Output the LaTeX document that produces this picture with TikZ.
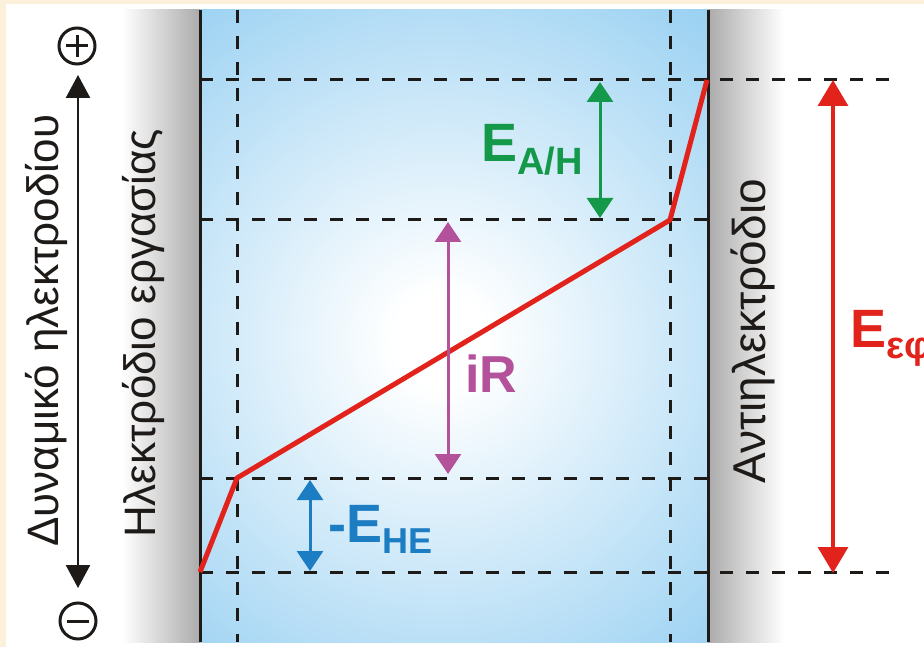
\documentclass[tikz,border=0pt]{standalone}
\usepackage{fontspec}
\setmainfont{Liberation Sans}
\usetikzlibrary{arrows.meta}
\definecolor{beige}{HTML}{FBF0DA}
\definecolor{bluec}{RGB}{112,190,237}
\definecolor{elgray}{HTML}{ABABAB}
\definecolor{redc}{HTML}{E2231C}
\definecolor{greenc}{HTML}{14994A}
\definecolor{bluearr}{HTML}{1C7DC2}
\definecolor{magc}{HTML}{B3519B}
\definecolor{inkc}{HTML}{1E1A18}
\pgfdeclareradialshading{bluefade}{\pgfpoint{0bp}{0bp}}{color(0bp)=(white); color(2bp)=(white); color(25bp)=(bluec); color(50bp)=(bluec)}
\begin{document}
\begin{tikzpicture}[x=1pt,y=-1pt,
  guide/.style={draw=inkc, line width=3pt, dash pattern=on 13pt off 13pt},
  wall/.style={draw=inkc, line width=3pt},
  dblarrow/.style={line width=3pt, {Triangle[width=26pt,length=20pt]}-{Triangle[width=26pt,length=20pt]}},
  bigarrow/.style={line width=3.2pt, {Triangle[width=30pt,length=26pt]}-{Triangle[width=30pt,length=26pt]}},
  axisarrow/.style={draw=inkc, line width=2.5pt, {Triangle[width=24pt,length=23pt]}-{Triangle[width=24pt,length=23pt]}},
  biglabel/.style={font=\fontsize{54}{54}\selectfont\bfseries, inner sep=0pt, anchor=base west},
  sidelabel/.style={font=\fontsize{44}{44}\selectfont, text=inkc, inner sep=0pt, anchor=base west, rotate=90},
  signcirc/.style={circle, draw=inkc, line width=3pt, minimum size=36pt, inner sep=0pt}
]
\clip (0,0) rectangle (924,647);
% background
\fill[beige] (0,0) rectangle (924,647);
\fill[white] (6,4) rectangle (924,647);
% electrodes
\shade[left color=white, right color=elgray] (122,10) rectangle (200,642);
\shade[left color=elgray, right color=white] (708,10) rectangle (784,642);
% electrolyte
\begin{scope}
  \clip (200,10) rectangle (708,642);
  \shade[shading=bluefade] (440,340) circle (580);
\end{scope}
% guide lines
\draw[guide] (237,10) -- (237,642);
\draw[guide] (670,10) -- (670,642);
\draw[guide] (200,80) -- (892,80);
\draw[guide] (200,220) -- (708,220);
\draw[guide] (200,478) -- (708,478);
\draw[guide] (200,572) -- (892,572);
% walls
\draw[wall] (200,10) -- (200,642);
\draw[wall] (708,10) -- (708,642);
% potential profile
\coordinate (p0) at (200,572);
\coordinate (p1) at (237,478);
\coordinate (p2) at (670,220);
\coordinate (p3) at (707,80);
\draw[redc, line width=5pt, line join=round] (p0) -- (p1) -- (p2) -- (p3);
% arrows
\coordinate (gA) at (600,82);  \coordinate (gB) at (600,218);
\coordinate (mA) at (448,222); \coordinate (mB) at (448,474);
\coordinate (bA) at (310,480); \coordinate (bB) at (310,571);
\coordinate (rA) at (833,80);  \coordinate (rB) at (833,573);
\draw[dblarrow, greenc] (gA) -- (gB);
\draw[dblarrow, magc] (mA) -- (mB);
\draw[dblarrow, bluearr] (bA) -- (bB);
\draw[bigarrow, redc] (rA) -- (rB);
% labels
\node[biglabel, text=greenc] (eah) at (481,162) {E\fontsize{38}{38}\selectfont\raisebox{-13pt}{A/H}};
\node[biglabel, text=magc, font=\fontsize{52}{52}\selectfont\bfseries] (ir) at (465,392) {iR};
\node[biglabel, text=bluearr] (ehe) at (328,542) {-E\fontsize{36}{36}\selectfont\raisebox{-11pt}{HE}};
\node[biglabel, text=redc] (eef) at (850,347) {E\fontsize{38}{38}\selectfont\raisebox{-11pt}{εφ}};
% side texts
\node[sidelabel] (pot) at (58,547) {Δυναμικό ηλεκτροδίου};
\node[sidelabel] (we) at (155,538) {Ηλεκτρόδιο εργασίας};
\node[sidelabel, font=\fontsize{46}{46}\selectfont] (ce) at (765,484) {Αντιηλεκτρόδιο};
% potential axis
\node[signcirc] (plus) at (77,46) {};
\node[signcirc] (minus) at (78,621) {};
\draw[inkc, line width=3pt] ([xshift=-11pt]plus.center) -- ([xshift=11pt]plus.center)
  ([yshift=-11pt]plus.center) -- ([yshift=11pt]plus.center);
\draw[inkc, line width=3pt] ([xshift=-11pt]minus.center) -- ([xshift=11pt]minus.center);
\coordinate (axTop) at (78,75);
\coordinate (axBot) at (78,588);
\draw[axisarrow] (axTop) -- (axBot);
\end{tikzpicture}
\end{document}
